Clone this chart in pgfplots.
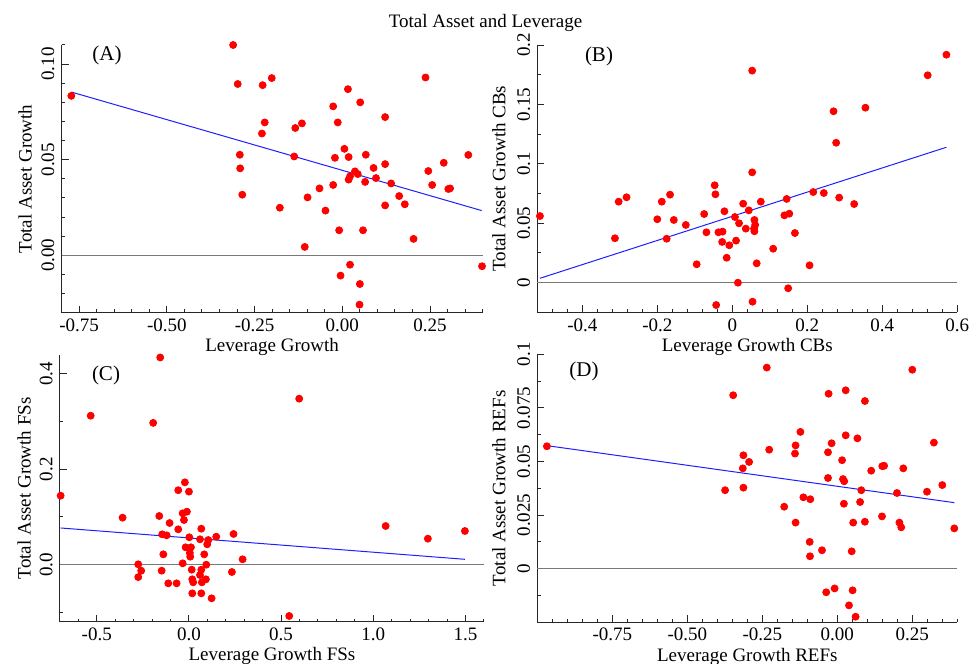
\documentclass[border=0pt]{standalone}
\usepackage{fontspec}
\setmainfont{Liberation Serif}
\usepackage{pgfplots}
\pgfplotsset{compat=1.18}
\definecolor{dotred}{RGB}{255,0,0}
\definecolor{fitblue}{RGB}{30,30,255}
\definecolor{zerogray}{RGB}{120,120,120}
\newcommand{\fs}{\fontsize{9.5}{11}\selectfont}
\pgfplotsset{
  panel/.style={
    scale only axis,
    axis x line*=bottom, axis y line*=left,
    axis line style={-, line width=0.5pt, black!85},
    tick align=inside,
    major tick length=3.5pt, minor tick length=1.7pt,
    every tick/.style={line width=0.5pt, black!85},
    xticklabel style={inner sep=0pt, yshift=-2.8pt, font=\fs},
    yticklabel style={inner sep=0pt, xshift=-3.7pt, rotate=90, anchor=base, font=\fs},
    xlabel style={at={(axis description cs:0.5,0)}, anchor=north, inner sep=0pt, yshift=-12.7pt, font=\fs},
    clip=false,
  },
  dots/.style={only marks, mark=*, mark size=1.75pt, color=dotred},
  fit/.style={fitblue, line width=0.5pt, no marks},
  zero/.style={zerogray, line width=0.5pt, no marks},
}
\begin{document}
\begin{tikzpicture}
\path[use as bounding box] (0,0) rectangle (485.5pt,332pt);
% ---------------- Panel A
\begin{axis}[panel,
  at={(30.75pt,175.65pt)}, anchor=south west,
  width=210.6pt, height=133.85pt,
  xmin=-0.8, xmax=0.4, ymin=-0.03, ymax=0.11,
  xtick={-0.75,-0.5,-0.25,0,0.25}, xticklabels={-0.75,-0.50,-0.25,0.00,0.25},
  ytick={0,0.05,0.1}, yticklabels={0.00,0.05,0.10},
  minor xtick={-0.8,-0.7,-0.65,-0.6,-0.55,-0.45,-0.4,-0.35,-0.3,-0.2,-0.15,-0.1,-0.05,0.05,0.1,0.15,0.2,0.3,0.35,0.4},
  minor ytick={-0.03,-0.02,-0.01,0.01,0.02,0.03,0.04,0.06,0.07,0.08,0.09,0.11},
  xlabel={Leverage Growth},
  ylabel={Total Asset Growth},
  ylabel style={at={(axis description cs:-0.0707,0.5)}, anchor=base, font=\fs},
]
\addplot[zero] coordinates {(-0.8,0) (0.4,0)};
\addplot[dots] coordinates {
(-0.772,0.0834) (-0.311,0.110) (-0.298,0.0896) (-0.292,0.0526) (-0.291,0.0455)
(-0.285,0.0317) (-0.227,0.089) (-0.201,0.0927) (-0.221,0.0695) (-0.229,0.0637)
(-0.178,0.0249) (-0.134,0.0666) (-0.115,0.069) (-0.137,0.0517) (-0.107,0.0044)
(-0.099,0.0303) (-0.065,0.035) (-0.048,0.0234) (-0.026,0.0779) (-0.013,0.0695)
(-0.021,0.051) (-0.026,0.0368) (-0.009,0.0131) (0.006,0.0557) (0.018,0.0514)
(0.016,0.0869) (0.022,0.0413) (0.018,0.0396) (0.036,0.0439) (0.044,0.0425)
(0.051,0.080) (0.067,0.0526) (0.065,0.0384) (0.059,0.0131) (0.022,-0.0049)
(-0.005,-0.0106) (0.050,-0.0150) (0.049,-0.0258) (0.089,0.0457) (0.096,0.0404)
(0.122,0.0723) (0.122,0.0477) (0.139,0.0376) (0.122,0.0261) (0.162,0.031)
(0.178,0.0267) (0.203,0.0086) (0.237,0.093) (0.245,0.0441) (0.256,0.0368)
(0.289,0.0484) (0.302,0.0347) (0.307,0.035) (0.359,0.0525) (0.398,-0.0057)
};
\addplot[fit] coordinates {(-0.772,0.0854) (0.397,0.0234)};
\end{axis}
% ---------------- Panel B
\begin{axis}[panel,
  at={(268.65pt,175.8pt)}, anchor=south west,
  width=210pt, height=133.65pt,
  xmin=-0.52, xmax=0.6, ymin=-0.025, ymax=0.2,
  xtick={-0.4,-0.2,0,0.2,0.4,0.6}, xticklabels={-0.4,-0.2,0,0.2,0.4,0.6},
  ytick={0,0.05,0.1,0.15,0.2}, yticklabels={0,0.05,0.1,0.15,0.2},
  minor xtick={-0.52,-0.48,-0.44,-0.36,-0.32,-0.28,-0.24,-0.16,-0.12,-0.08,-0.04,0.04,0.08,0.12,0.16,0.24,0.28,0.32,0.36,0.44,0.48,0.52,0.56},
  minor ytick={-0.025,0.025,0.075,0.125,0.175},
  xlabel={Leverage Growth CBs},
  ylabel={Total Asset Growth CBs},
  ylabel style={at={(axis description cs:-0.0762,0.5)}, anchor=base, font=\fs},
]
\addplot[zero] coordinates {(-0.52,0) (0.6,0)};
\addplot[dots] coordinates {
(-0.513,0.0561) (-0.313,0.0374) (-0.303,0.0682) (-0.282,0.0719) (-0.200,0.0534)
(-0.188,0.0682) (-0.166,0.0741) (-0.156,0.0528) (-0.175,0.037) (-0.124,0.0486)
(-0.095,0.0155) (-0.075,0.0578) (-0.069,0.0424) (-0.047,0.082) (-0.045,0.0744)
(-0.037,0.0424) (-0.026,0.043) (-0.027,0.0343) (-0.021,0.0601) (-0.015,0.021)
(-0.008,0.0315) (-0.043,-0.0188) (0.007,0.0553) (0.018,0.050) (0.010,0.0354)
(0.029,0.0665) (0.036,0.0455) (0.044,0.0609) (0.059,0.0528) (0.061,0.0486)
(0.058,0.0455) (0.059,0.0433) (0.076,0.0682) (0.053,0.1785) (0.053,0.0929)
(0.065,0.0163) (0.015,0.0) (0.054,-0.016) (0.109,0.0286) (0.139,0.0567)
(0.152,0.0581) (0.145,0.0705) (0.167,0.0418) (0.149,-0.0047) (0.206,0.0146)
(0.216,0.0763) (0.244,0.0755) (0.270,0.1443) (0.277,0.1178) (0.285,0.0716)
(0.325,0.0662) (0.355,0.1473) (0.521,0.1746) (0.571,0.1919)
};
\addplot[fit] coordinates {(-0.513,0.0037) (0.571,0.114)};
\end{axis}
% ---------------- Panel C
\begin{axis}[panel,
  at={(29.95pt,21pt)}, anchor=south west,
  width=212pt, height=133.7pt,
  xmin=-0.7, xmax=1.6, ymin=-0.12, ymax=0.44,
  xtick={-0.5,0,0.5,1,1.5}, xticklabels={-0.5,0.0,0.5,1.0,1.5},
  ytick={0,0.2,0.4}, yticklabels={0.0,0.2,0.4},
  minor xtick={-0.7,-0.6,-0.4,-0.3,-0.2,-0.1,0.1,0.2,0.3,0.4,0.6,0.7,0.8,0.9,1.1,1.2,1.3,1.4,1.6},
  minor ytick={-0.1,0.1,0.3},
  xlabel={Leverage Growth FSs},
  ylabel={Total Asset Growth FSs},
  ylabel style={at={(axis description cs:-0.0689,0.5)}, anchor=base, font=\fs},
]
\addplot[zero] coordinates {(-0.7,0) (1.6,0)};
\addplot[dots] coordinates {
(-0.696,0.1445) (-0.533,0.312) (-0.156,0.434) (-0.194,0.297) (-0.36,0.0985)
(-0.275,0.0008) (-0.259,-0.0126) (-0.275,-0.026) (-0.161,0.102) (-0.105,0.0873)
(-0.145,0.0636) (-0.121,0.0615) (-0.139,0.0217) (-0.148,-0.0126) (-0.112,-0.039)
(-0.067,-0.039) (-0.058,0.156) (-0.058,0.0741) (-0.022,0.1725) (0.0,0.153)
(-0.034,0.1076) (-0.011,0.111) (-0.027,0.0936) (0.002,0.0574) (-0.018,0.0364)
(0.011,0.0364) (0.005,0.0245) (0.007,0.0168) (-0.034,0.0029) (0.015,-0.0105)
(0.018,-0.0306) (0.023,-0.0369) (0.018,-0.06) (0.06,0.0532) (0.067,0.0754)
(0.083,0.0217) (0.067,-0.0105) (0.06,-0.0216) (0.07,-0.0369) (0.067,-0.06)
(0.092,-0.0306) (0.094,0.0) (0.099,0.0427) (0.105,0.0517) (0.123,-0.0704)
(0.148,0.0586) (0.233,-0.0153) (0.242,0.0643) (0.291,0.0113) (0.598,0.3477)
(0.544,-0.1074) (1.067,0.081) (1.296,0.0545) (1.497,0.0706)
};
\addplot[fit] coordinates {(-0.696,0.0769) (1.497,0.0113)};
\end{axis}
% ---------------- Panel D
\begin{axis}[panel,
  at={(268.65pt,20.85pt)}, anchor=south west,
  width=210pt, height=134pt,
  xmin=-1, xmax=0.4, ymin=-0.025, ymax=0.1,
  xtick={-0.75,-0.5,-0.25,0,0.25}, xticklabels={-0.75,-0.50,-0.25,0.00,0.25},
  ytick={0,0.025,0.05,0.075,0.1}, yticklabels={0,0.025,0.05,0.075,0.1},
  minor xtick={-1,-0.95,-0.9,-0.85,-0.8,-0.7,-0.65,-0.6,-0.55,-0.45,-0.4,-0.35,-0.3,-0.2,-0.15,-0.1,-0.05,0.05,0.1,0.15,0.2,0.3,0.35,0.4},
  minor ytick={-0.025,-0.0125,0.0125,0.0375,0.0625,0.0875},
  xlabel={Leverage Growth REFs},
  ylabel={Total Asset Growth REFs},
  ylabel style={at={(axis description cs:-0.0762,0.5)}, anchor=base, font=\fs},
]
\addplot[zero] coordinates {(-1,0) (0.4,0)};
\addplot[dots] coordinates {
(-0.968,0.0571) (-0.374,0.0366) (-0.347,0.0809) (-0.313,0.0529) (-0.315,0.0468)
(-0.294,0.0498) (-0.313,0.0378) (-0.235,0.0938) (-0.227,0.0555) (-0.177,0.0289)
(-0.139,0.0575) (-0.141,0.0537) (-0.139,0.0215) (-0.123,0.0638) (-0.113,0.0333)
(-0.09,0.0324) (-0.092,0.0125) (-0.091,0.0058) (-0.051,0.0086) (-0.029,0.0816)
(-0.031,0.0543) (-0.019,0.0585) (-0.031,0.0423) (0.016,0.0506) (0.028,0.0832)
(0.028,0.0622) (0.019,0.0418) (0.023,0.0408) (0.022,0.0303) (0.067,0.0608)
(0.092,0.0782) (0.08,0.0366) (0.076,0.0311) (0.053,0.0215) (0.092,0.0219)
(0.048,0.0081) (0.113,0.0457) (0.15,0.0478) (0.156,0.048) (0.149,0.0244)
(0.199,0.0353) (0.207,0.0215) (0.213,0.0193) (0.22,0.0468) (0.25,0.0928)
(0.299,0.0359) (0.322,0.0588) (0.35,0.039) (0.39,0.0188) (-0.037,-0.011)
(-0.009,-0.0092) (0.051,-0.0101) (0.039,-0.0171) (0.061,-0.0224)
};
\addplot[fit] coordinates {(-0.968,0.0574) (0.39,0.0308)};
\end{axis}
% ---------------- titles
\node[anchor=base, font=\fs] at (242.75pt,318pt) {Total Asset and Leverage};
\node[font=\fontsize{10.5}{12}\selectfont] at (53.5pt,304.5pt) {(A)};
\node[font=\fontsize{10.5}{12}\selectfont] at (299.5pt,304pt) {(B)};
\node[font=\fontsize{10.5}{12}\selectfont] at (53pt,144.5pt) {(C)};
\node[font=\fontsize{10.5}{12}\selectfont] at (292pt,146.5pt) {(D)};
\end{tikzpicture}
\end{document}
